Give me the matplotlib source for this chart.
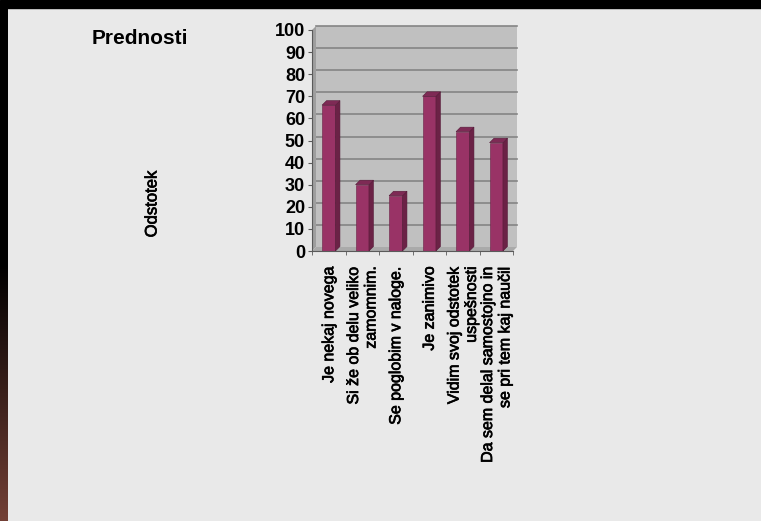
import numpy as np
import matplotlib
matplotlib.use('Agg')
import matplotlib.pyplot as plt
import matplotlib.patheffects as pe
from matplotlib.patches import Rectangle, Polygon

plt.rcParams['font.family'] = ['Liberation Sans', 'DejaVu Sans']

# Data
categories = [
    'Je nekaj novega',
    'Si že ob delu veliko\nzamomnim.',
    'Se poglobim v naloge.',
    'Je zanimivo',
    'Vidim svoj odstotek\nuspešnosti',
    'Da sem delal samostojno in\nse pri tem kaj naučil',
]
values = [66, 30, 25, 70, 54, 49]
yticks = list(range(0, 101, 10))

W, H = 761, 521
fig = plt.figure(figsize=(W / 100, H / 100), dpi=100, facecolor='#e9e9e9')

# slide decoration: black band on top, dark gradient strip at left
fig.patches.append(Rectangle((0, 1 - 8 / H), 1, 8 / H, transform=fig.transFigure,
                             color='black', zorder=-5))
strip = fig.add_axes([0, 0, 8 / W, 1 - 8 / H])
strip.axis('off')
t = np.clip((np.linspace(0, 1, 256) - 0.5) / 0.5, 0, 1)
brown = np.array([0.45, 0.25, 0.21])
grad = (t[:, None] * brown[None, :])[:, None, :]
strip.imshow(grad, aspect='auto', extent=[0, 1, 0, 1])

# chart (front plane)
ax = fig.add_axes([312 / W, 1 - 251 / H, 201 / W, 221 / H])
ax.set_xlim(-0.5, len(values) - 0.5)
ax.set_ylim(0, 100)
ax.set_facecolor('none')

bb = ax.get_window_extent()
px_x = bb.width / len(values)
px_y = bb.height / 100
depth = 4
dx, dy = depth / px_x, depth / px_y

x0, x1 = -0.5, len(values) - 0.5
# back wall, side wall, floor
ax.add_patch(Rectangle((x0 + dx, dy), x1 - x0, 100, fc='#c0c0c0', ec='none',
                       clip_on=False, zorder=0))
for v in yticks[1:]:
    ax.plot([x0 + dx, x1 + dx], [v + dy, v + dy], color='#858585', lw=1.2,
            clip_on=False, zorder=1)
ax.add_patch(Polygon([(x0, 0), (x0 + dx, dy), (x0 + dx, 100 + dy), (x0, 100)],
                     fc='#9e9e9e', ec='none', clip_on=False, zorder=1))
ax.add_patch(Polygon([(x0, 0), (x1, 0), (x1 + dx, dy), (x0 + dx, dy)],
                     fc='#aaaaaa', ec='none', clip_on=False, zorder=1))

# 3D-looking bars
xs = np.arange(len(values))
bw = 0.4
bdx, bdy = 4.5 / px_x, 4.5 / px_y
ax.bar(xs, values, width=bw, color='#993366', edgecolor='#6a2045', lw=0.4, zorder=3)
for xi, v in zip(xs, values):
    r = xi + bw / 2
    l = xi - bw / 2
    ax.add_patch(Polygon([(r, 0), (r + bdx, bdy), (r + bdx, v + bdy), (r, v)],
                         fc='#6b2246', ec='#551a38', lw=0.4, zorder=3, clip_on=False))
    ax.add_patch(Polygon([(l, v), (r, v), (r + bdx, v + bdy), (l + bdx, v + bdy)],
                         fc='#7e2a55', ec='#551a38', lw=0.4, zorder=3, clip_on=False))

for s in ['top', 'right']:
    ax.spines[s].set_visible(False)
for s in ['left', 'bottom']:
    ax.spines[s].set_color('#5a5a5a')
    ax.spines[s].set_zorder(4)

thick = [pe.withStroke(linewidth=0.5, foreground='black')]

ax.set_yticks(yticks)
ax.tick_params(axis='y', length=3, color='#5a5a5a', labelsize=13, pad=2)
for lab in ax.get_yticklabels():
    lab.set_fontweight('bold')

ax.set_xticks(xs)
ax.set_xticklabels(categories, rotation=90, fontsize=11.5)
for lab in ax.get_xticklabels():
    lab.set_multialignment('right')
    lab.set_path_effects(thick)
ax.set_xticks(np.arange(-0.5, len(values), 1), minor=True)
ax.tick_params(axis='x', which='major', length=0, pad=11)
ax.tick_params(axis='x', which='minor', length=3, color='#5a5a5a')

fig.text(92 / W, 1 - 38 / H, 'Prednosti', fontsize=15, fontweight='bold',
         ha='left', va='center')
fig.text(152 / W, 1 - 204 / H, 'Odstotek', fontsize=12, rotation=90,
         ha='center', va='center', path_effects=thick)

fig.savefig('out.png', dpi=100, facecolor=fig.get_facecolor())
